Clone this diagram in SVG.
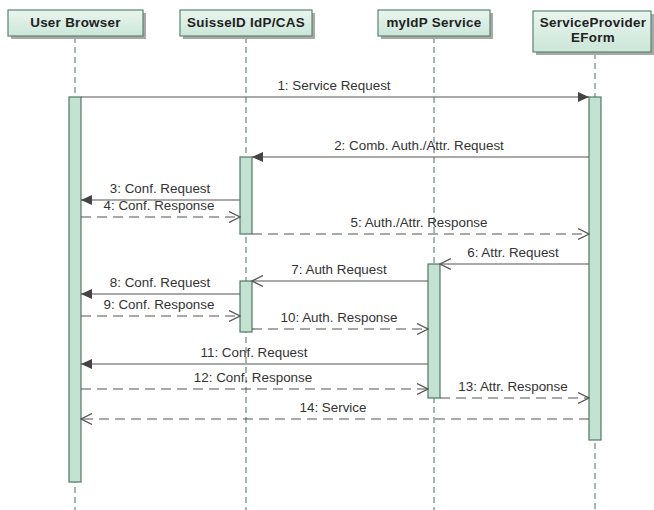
<svg xmlns="http://www.w3.org/2000/svg" width="654" height="510" viewBox="0 0 654 510">
<defs>
<linearGradient id="hg" x1="0" y1="0" x2="0" y2="1">
<stop offset="0" stop-color="#eaf5ef"/>
<stop offset="1" stop-color="#cbe6d8"/>
</linearGradient>
<marker id="fill" markerWidth="12" markerHeight="10" refX="11" refY="5" orient="auto" markerUnits="userSpaceOnUse">
<path d="M0,0 L11,5 L0,10 Z" fill="#444"/>
</marker>
<marker id="open" markerWidth="12" markerHeight="12" refX="11" refY="6" orient="auto" markerUnits="userSpaceOnUse">
<path d="M0,0.5 L11,6 L0,11.5" fill="none" stroke="#555" stroke-width="1.2"/>
</marker>
</defs>
<style>
.hdr{fill:url(#hg);stroke:#5b8572;stroke-width:1.2}
.shd{fill:#a8a8a8}
.ht{font-family:"Liberation Sans",Arial,sans-serif;font-size:13.4px;font-weight:bold;fill:#222;text-anchor:middle;letter-spacing:0.3px}
.life{stroke:#4d6e60;stroke-width:1;stroke-dasharray:6 4;fill:none}
.act{fill:#c3e2d1;stroke:#4f7a65;stroke-width:1.2}
.sync{stroke:#555;stroke-width:1.2;fill:none;marker-end:url(#fill)}
.solid{stroke:#555;stroke-width:1.2;fill:none;marker-end:url(#open)}
.ret{stroke:#555;stroke-width:1.2;fill:none;stroke-dasharray:10 6;marker-end:url(#open)}
.lbl{font-family:"Liberation Sans",Arial,sans-serif;font-size:13.4px;fill:#333;text-anchor:middle}
</style>
<rect width="654" height="510" fill="#ffffff"/>
<g id="lifelines">
<line class="life" x1="75" y1="37" x2="75" y2="510"/>
<line class="life" x1="246" y1="37" x2="246" y2="510"/>
<line class="life" x1="434" y1="37" x2="434" y2="510"/>
<line class="life" x1="595" y1="53" x2="595" y2="510"/>
</g>
<g id="user-browser">
<rect class="shd" x="11" y="13" width="135" height="26"/>
<rect class="hdr" x="8" y="10" width="135" height="26"/>
<text class="ht" x="75.5" y="27">User Browser</text>
<rect class="act" x="69" y="97" width="12" height="385"/>
</g>
<g id="suisseid">
<rect class="shd" x="183" y="13" width="132" height="26"/>
<rect class="hdr" x="180" y="10" width="132" height="26"/>
<text class="ht" x="246" y="27">SuisseID IdP/CAS</text>
<rect class="act" x="240" y="157" width="12" height="77"/>
<rect class="act" x="240" y="281" width="12" height="51"/>
</g>
<g id="myidp">
<rect class="shd" x="381" y="13" width="112" height="26"/>
<rect class="hdr" x="378" y="10" width="112" height="26"/>
<text class="ht" x="434" y="27">myIdP Service</text>
<rect class="act" x="428" y="264" width="12" height="134"/>
</g>
<g id="service-provider">
<rect class="shd" x="536" y="14" width="118" height="41"/>
<rect class="hdr" x="533" y="11" width="118" height="41"/>
<text class="ht" x="593" y="27">ServiceProvider</text>
<text class="ht" x="593" y="42">EForm</text>
<rect class="act" x="589" y="97" width="12" height="343"/>
</g>
<g id="connectors">
<line class="sync" x1="81" y1="97" x2="589" y2="97"/>
<line class="sync" x1="589" y1="157" x2="252" y2="157"/>
<line class="sync" x1="240" y1="200" x2="81" y2="200"/>
<line class="ret" x1="81" y1="217" x2="240" y2="217"/>
<line class="ret" x1="252" y1="234" x2="589" y2="234"/>
<line class="solid" x1="589" y1="264" x2="440" y2="264"/>
<line class="solid" x1="428" y1="281" x2="252" y2="281"/>
<line class="sync" x1="240" y1="294" x2="81" y2="294"/>
<line class="ret" x1="81" y1="316" x2="240" y2="316"/>
<line class="ret" x1="252" y1="329" x2="428" y2="329"/>
<line class="sync" x1="428" y1="364" x2="81" y2="364"/>
<line class="ret" x1="81" y1="389" x2="428" y2="389"/>
<line class="ret" x1="440" y1="398" x2="589" y2="398"/>
<line class="ret" x1="589" y1="419" x2="81" y2="419"/>
</g>
<g id="labels">
<text class="lbl" x="334" y="90">1: Service Request</text>
<text class="lbl" x="419" y="150">2: Comb. Auth./Attr. Request</text>
<text class="lbl" x="160" y="193">3: Conf. Request</text>
<text class="lbl" x="159" y="210">4: Conf. Response</text>
<text class="lbl" x="419" y="227">5: Auth./Attr. Response</text>
<text class="lbl" x="513" y="257">6: Attr. Request</text>
<text class="lbl" x="339" y="274">7: Auth Request</text>
<text class="lbl" x="160" y="287">8: Conf. Request</text>
<text class="lbl" x="159" y="309">9: Conf. Response</text>
<text class="lbl" x="339" y="322">10: Auth. Response</text>
<text class="lbl" x="254" y="357">11: Conf. Request</text>
<text class="lbl" x="253" y="382">12: Conf. Response</text>
<text class="lbl" x="513" y="391">13: Attr. Response</text>
<text class="lbl" x="333" y="412">14: Service</text>
</g>
</svg>
